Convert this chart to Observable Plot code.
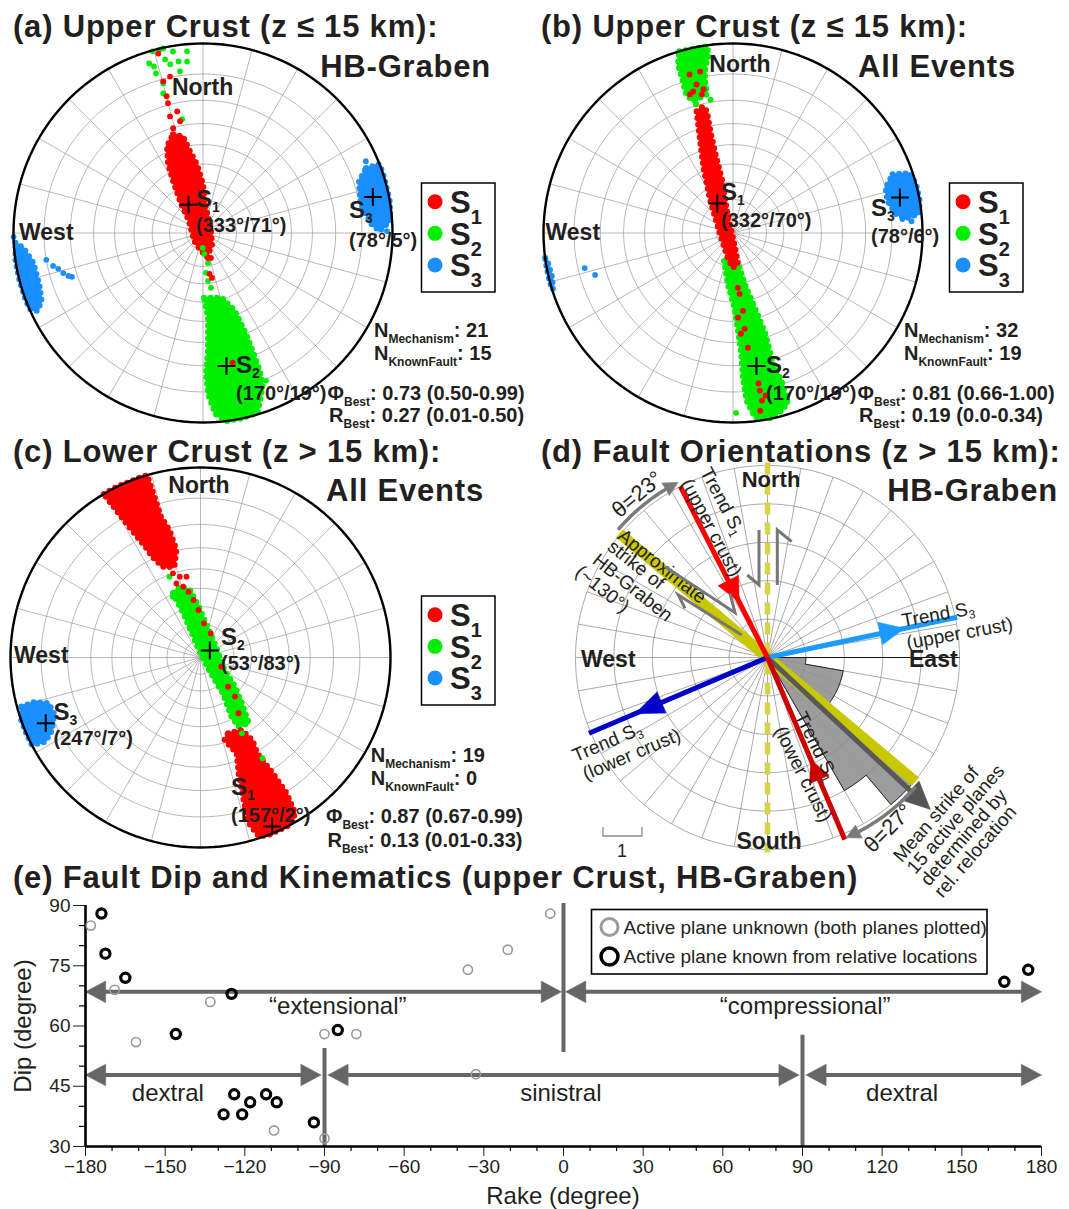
<!DOCTYPE html>
<html>
<head>
<meta charset="utf-8">
<script src="https://cdn.jsdelivr.net/npm/d3@7"></script>
<script src="https://cdn.jsdelivr.net/npm/@observablehq/plot@0.6"></script>
<style>
html,body{margin:0;padding:0;background:#fff;}
#fig{position:relative;width:1069px;height:1209px;overflow:hidden;background:#fff;}
#fig > svg{position:absolute;overflow:visible;}
</style>
</head>
<body>
<div id="fig"></div>
<script>
// ======================= DATA =======================
// Stereonet bootstrap clouds, outlined as [trend°, plunge°] (lower hemisphere)
// (a) Upper crust, HB-Graben
const aS1Cloud = [[343.1,32.9],[348.3,35.0],[350.5,41.8],[355.0,50.0],[0.0,61.1],[6.8,74.9],[58.0,84.3],[143.1,81.0],[170.5,75.4],[186.3,79.2],[228.4,82.8],[310.6,78.9],[322.8,68.3],[330.0,55.0],[333.1,45.6],[337.5,37.2]];
const aS2Cloud = [[179.1,52.2],[163.7,50.8],[157.7,42.1],[156.9,29.9],[157.2,20.7],[157.6,13.7],[158.6,8.3],[163.0,0.6],[168.2,0.0],[172.8,0.0],[176.2,2.6],[178.2,9.4],[178.8,16.8],[177.6,26.3],[176.6,41.8]];
const aS3Cloud = [[68.3,4.4],[68.7,0.0],[72.1,0.0],[80.4,0.0],[86.3,0.6],[89.4,4.0],[86.9,6.7],[79.6,9.6],[71.6,8.1]];
const aS3CloudWest = [[267.0,0.5],[265.2,2.9],[260.0,5.5],[252.1,5.6],[247.2,4.5],[244.8,2.0],[246.4,0.0],[250.1,0.0],[255.7,0.0],[261.6,0.0]];
const aS1Scatter = [[346.0,1.4],[345.3,10.8],[348.1,9.7],[345.1,16.5],[344.9,19.3],[344.2,24.8],[348.0,23.5],[348.4,27.9],[344.1,30.2],[339.7,36.9],[168.7,74.7],[162.3,74.3],[170.9,65.3],[168.7,62.8],[167.1,19.9]];
const aS2Scatter = [[344.5,0.3],[346.7,0.3],[347.8,0.2],[350.6,1.7],[355.0,2.2],[342.4,3.6],[343.6,5.0],[347.7,3.7],[349.0,5.6],[351.9,5.1],[354.7,5.5],[351.9,8.5],[343.6,7.4],[345.1,11.5],[344.1,15.1],[349.6,27.2],[181.0,81.0],[176.2,77.3],[170.5,71.8],[175.7,66.2],[174.0,61.5],[171.7,57.4],[156.9,9.5]];
const aS3Scatter = [[260.3,10.0],[257.6,12.0],[256.1,13.6],[254.0,15.0],[252.3,16.6],[251.5,17.8],[268.8,0.0],[66.2,3.6],[89.4,1.7]];
const aBest = [[333,71],[170,19],[78,5]];
const aStats = ["21","15","0.73 (0.50-0.99)","0.27 (0.01-0.50)"];

// (b) Upper crust, all events
const bS1Cloud = [[343.3,22.4],[340.3,35.6],[335.5,48.8],[324.6,66.7],[278.1,81.5],[192.2,74.7],[180.5,69.2],[171.0,71.2],[172.7,83.3],[344.1,78.1],[348.5,58.8],[347.5,43.9],[347.5,32.4],[347.9,23.4],[346.7,21.0]];
const bS2Cloud = [[197.8,72.4],[186.0,59.8],[178.9,46.9],[177.1,35.4],[176.1,24.9],[176.1,15.2],[175.4,6.9],[173.2,1.1],[168.0,0.0],[162.2,3.2],[161.8,10.2],[162.9,19.6],[162.2,31.7],[163.7,45.4],[167.0,59.2],[170.8,71.2]];
const bS2CloudNorth = [[343.5,0.0],[352.1,0.3],[352.2,2.9],[350.4,7.3],[349.6,11.7],[349.4,16.7],[343.1,18.0],[341.3,14.7],[341.7,9.7],[341.9,3.8]];
const bS3Cloud = [[69.8,6.2],[71.3,0.9],[75.0,0.0],[80.4,0.0],[84.2,0.9],[85.1,4.8],[83.4,8.2],[78.3,10.4],[73.6,10.0]];
const bS3CloudWest = [[262.5,0.0],[260.5,0.7],[256.1,1.0],[252.8,0.3],[252.6,0.0],[255.7,0.0],[259.5,0.0]];
const bS1Scatter = [[348.5,8.0],[346.2,12.2],[347.3,16.3],[344.7,8.1],[344.3,14.4],[342.7,15.1],[348.4,14.5],[174.9,57.6],[173.8,54.2],[172.7,45.0],[176.6,41.8],[173.0,36.0],[175.5,33.9],[172.6,27.2],[170.4,12.3],[170.3,9.7],[168.7,7.6],[170.2,6.2],[171.3,3.0]];
const bS2Scatter = [[344.0,19.5],[350.5,19.0],[179.0,3.0],[165.0,1.5]];
const bS3Scatter = [[86.2,3.3],[85.3,6.2],[256.7,12.4],[253.1,15.5]];
const bBest = [[332,70],[170,19],[78,6]];
const bStats = ["32","19","0.81 (0.66-1.00)","0.19 (0.0-0.34)"];

// (c) Lower crust, all events
const cS1CloudNorth = [[329.4,0.0],[333.9,0.0],[341.1,0.0],[343.7,0.0],[343.9,4.9],[344.3,14.8],[346.3,20.8],[347.4,29.8],[344.0,37.1],[337.3,35.2],[334.4,29.1],[333.5,23.8],[331.6,15.3],[330.6,9.2],[329.8,3.6]];
const cS1CloudSouth = [[160.0,44.0],[150.3,42.6],[147.9,35.7],[149.3,29.2],[148.0,18.6],[147.6,9.5],[148.7,2.3],[152.1,0.0],[159.1,0.0],[161.9,0.5],[163.8,5.5],[163.2,13.8],[161.8,24.6],[159.3,33.4],[163.8,41.3]];
const cS2Cloud = [[336.7,49.6],[338.7,62.0],[340.4,74.6],[0.0,87.5],[146.9,78.7],[148.0,65.0],[152.4,51.2],[151.2,44.9],[143.7,43.5],[137.9,54.0],[130.2,63.2],[117.5,73.8],[55.1,78.6],[12.6,71.1],[358.1,60.0],[351.3,50.5],[343.7,47.6]];
const cS3Cloud = [[254.7,1.3],[255.0,5.9],[253.2,10.3],[249.2,10.9],[243.9,8.0],[241.5,4.2],[242.6,0.0],[245.8,0.0],[251.0,0.0]];
const cS1Scatter = [[341.1,36.4],[341.9,40.0],[345.6,42.6],[350.2,43.3],[342.0,45.4],[346.3,48.0],[349.7,51.2],[353.1,56.1],[357.6,61.9],[5.7,69.5],[23.0,74.3],[114.0,76.4],[136.6,66.1],[138.6,59.3],[145.7,50.9],[157.7,38.8],[153.2,27.7]];
const cS2Scatter = [[339.0,41.0],[335.6,51.3],[148.4,26.2],[151.4,41.1]];
const cBest = [[157,2],[53,83],[247,7]];
const cStats = ["19","0","0.87 (0.67-0.99)","0.13 (0.01-0.33)"];

// (d) Rose of fault strikes (10° bins) and reference trends
const roseBinStart = [90, 100, 110, 120, 130, 140];
const roseBinWidth = 10;
const roseCounts = [1, 2, 2, 2, 5, 4];
const trendS1Upper = 333, trendS3Upper = 78, trendS1Lower = 157, trendS3Lower = 247;
const strikeGraben = 130, meanStrike = 133;

// (e) Rake / dip of nodal planes
const knownPlanes = [[-174,88],[-172.5,78],[-165,72],[-125,68],[-146,58],[-124,43],[-128,38],[-121,38],[-118,41],[-112,43],[-108,41],[-94,36],[-85,59],[166,71],[175,74]];
const unknownPlanes = [[-178,85],[-169,69],[-133,66],[-161,56],[-109,34],[-90,58],[-90,32],[-78,58],[-36,74],[-21,79],[-33,48],[-5,88]];
const kinNames = ["\u201Cextensional\u201D", "\u201Ccompressional\u201D", "dextral", "sinistral", "dextral"];
const kinFrom = [-180, 0, -180, -90, 90];
const kinTo = [0, 180, -90, 90, 180];
const xTicks = [-180, -150, -120, -90, -60, -30, 0, 30, 60, 90, 120, 150, 180];
const yTicks = [30, 45, 60, 75, 90];

// ======================= DRAWING =======================
const FONT = '"Liberation Sans", Arial, Helvetica, sans-serif';
const INK = "#231f20";
const RED = "#ff0000", GREEN = "#00ee00", BLUE = "#1a8fff";
const fig = document.getElementById("fig");
function put(node, left, top) {
  node.style.position = "absolute";
  node.style.left = left + "px";
  node.style.top = top + "px";
  fig.appendChild(node);
}
const rad = d => d * Math.PI / 180;
function stereo(t, p) { const r = Math.tan(rad(90 - p) / 2); return [r * Math.sin(rad(t)), r * Math.cos(rad(t))]; }
const SX = d => stereo(d[0], d[1])[0];
const SY = d => stereo(d[0], d[1])[1];
const closeRing = a => a.concat([a[0]]);

function stereonet(cx, cy, R, clouds, scatter, best) {
  const pad = 24, W = 2 * R + 2 * pad;
  const circles = d3.range(10, 90, 10).flatMap(p => d3.range(0, 361, 3).map(t => [t, p]));
  const radials = d3.range(0, 360, 15);
  const rim = d3.range(0, 361, 2).map(t => [t, 0]);
  const marks = [
    Plot.line(circles, {x: SX, y: SY, z: d => d[1], stroke: "#a0a0a0", strokeWidth: 0.75}),
    Plot.link(radials, {x1: () => 0, y1: () => 0, x2: t => Math.sin(rad(t)), y2: t => Math.cos(rad(t)), stroke: "#a0a0a0", strokeWidth: 0.75})
  ];
  for (const c of clouds) {
    marks.push(Plot.line(closeRing(c[0]), {x: SX, y: SY, fill: c[1], stroke: c[1], strokeWidth: 2, strokeLinejoin: "round"}));
    marks.push(Plot.line(closeRing(c[0]), {x: SX, y: SY, stroke: c[1], strokeWidth: 6, strokeLinecap: "round", strokeDasharray: "0,6.5"}));
  }
  for (const s of scatter) marks.push(Plot.dot(s[0], {x: SX, y: SY, r: 2.9, fill: s[1]}));
  marks.push(Plot.line(rim, {x: SX, y: SY, stroke: "black", strokeWidth: 2.4}));
  marks.push(Plot.dot(best, {x: SX, y: SY, symbol: "plus", r: 5.8, stroke: "black", strokeWidth: 2}));
  const svg = Plot.plot({width: W, height: W, margin: pad,
    x: {domain: [-1, 1], axis: null}, y: {domain: [-1, 1], axis: null},
    style: {background: "transparent", overflow: "visible"}, marks});
  put(svg, cx - R - pad, cy - R - pad);
}

stereonet(202, 232, 189.5,
  [[aS2Cloud, GREEN], [aS1Cloud, RED], [aS3Cloud, BLUE], [aS3CloudWest, BLUE]],
  [[aS2Scatter, GREEN], [aS1Scatter, RED], [aS3Scatter, BLUE]], aBest);
stereonet(732, 232, 189.5,
  [[bS2Cloud, GREEN], [bS2CloudNorth, GREEN], [bS1Cloud, RED], [bS3Cloud, BLUE], [bS3CloudWest, BLUE]],
  [[bS2Scatter, GREEN], [bS1Scatter, RED], [bS3Scatter, BLUE]], bBest);
stereonet(200, 657, 190,
  [[cS2Cloud, GREEN], [cS1CloudNorth, RED], [cS1CloudSouth, RED], [cS3Cloud, BLUE]],
  [[cS2Scatter, GREEN], [cS1Scatter, RED]], cBest);

// ---- (d) rose diagram ----
(function rose() {
  const cx = 767, cy = 657, U = 38.4, half = 262, m = half - 5 * U;
  const P = (t, r) => [r * Math.sin(rad(t)), r * Math.cos(rad(t))];
  const bins = roseBinStart.map((f, i) => ({from: f, to: f + roseBinWidth, n: roseCounts[i]}));
  const wedge = bins.flatMap((b, i) => [[0, 0], ...d3.range(b.from, b.to + 0.001, 1).map(t => P(t, b.n)), [0, 0]].map(p => ({x: p[0], y: p[1], i})));
  const outline = [[0, 0], ...bins.flatMap(b => d3.range(b.from, b.to + 0.001, 1).map(t => P(t, b.n))), [0, 0]];
  const rings = d3.range(1, 6).flatMap(r => d3.range(0, 361, 2).map(t => ({p: P(t, r), r})));
  const radials = d3.range(0, 360, 10);
  const seg = (a, b, stroke, w, extra = {}) => Plot.link([{a, b}], {x1: d => d.a[0], y1: d => d.a[1], x2: d => d.b[0], y2: d => d.b[1], stroke, strokeWidth: w, ...extra});
  const tri = (t, base, tip, hw, fill) => {
    const c = P(t, base), q = [Math.cos(rad(t)), -Math.sin(rad(t))];
    const pts = [[c[0] + hw * q[0], c[1] + hw * q[1]], P(t, tip), [c[0] - hw * q[0], c[1] - hw * q[1]]];
    return Plot.line(closeRing(pts), {x: d => d[0], y: d => d[1], fill, stroke: fill, strokeWidth: 0.5});
  };
  const arc = (t1, t2, r) => {
    const dir = Math.sign(t2 - t1), body = t2 - dir * 4.2;
    const pts = d3.range(t1, body + dir * 0.001, dir * 0.5).map(t => P(t, r));
    const head = [P(body, r + 0.19), P(t2, r), P(body, r - 0.19)];
    return [Plot.line(pts, {x: d => d[0], y: d => d[1], stroke: "#7a7a7a", strokeWidth: 3.5}),
            Plot.line(closeRing(head), {x: d => d[0], y: d => d[1], fill: "#7a7a7a", stroke: "#7a7a7a", strokeWidth: 0.5})];
  };
  const marks = [
    Plot.line(wedge, {x: "x", y: "y", z: "i", fill: "#9c9c9c", stroke: "none"}),
    Plot.line(rings, {x: d => d.p[0], y: d => d.p[1], z: "r", stroke: "#858585", strokeWidth: 0.7}),
    Plot.link(radials.filter(t => t !== 90), {x1: () => 0, y1: () => 0, x2: t => 5 * Math.sin(rad(t)), y2: t => 5 * Math.cos(rad(t)), stroke: "#858585", strokeWidth: 0.7}),
    seg([0, 0], P(90, 5), "#111", 1.1),
    Plot.line(outline, {x: d => d[0], y: d => d[1], stroke: "#1a1a1a", strokeWidth: 0.9}),
    seg(P(0, 5.08), P(180, 5.08), "#d4d446", 5.5, {strokeDasharray: "12,8"}),
    seg(P(strikeGraben + 180, 5.03), P(strikeGraben, 5.03), "#c8c800", 11),
    seg([0, 0], P(meanStrike, 5.12), "#595959", 5),
    seg([0, 0], P(trendS3Upper, 5.05), "#1a9bff", 5),
    seg([0, 0], P(trendS3Lower, 5.05), "#0000c8", 5),
    seg(P(trendS1Upper, 5.0), [0, 0], "#ff0000", 5),
    seg([0, 0], P(trendS1Lower, 5.15), "#cc0000", 5),
    tri(trendS1Upper, 2.25, 1.62, 0.3, "#ff0000"),
    tri(trendS1Lower, 3.45, 2.9, 0.28, "#cc0000"),
    tri(trendS3Upper, 3.0, 3.65, 0.3, "#1a9bff"),
    tri(trendS3Lower, 3.0, 3.75, 0.3, "#0000c8"),
    tri(meanStrike, 5.08, 5.8, 0.34, "#555555"),
    ...arc(strikeGraben + 181, trendS1Upper, 5.12),
    ...arc(strikeGraben + 1.5, trendS1Lower - 0.5, 5.12)
  ];
  const svg = Plot.plot({width: 2 * half, height: 2 * half, margin: m,
    x: {domain: [-5, 5], axis: null}, y: {domain: [-5, 5], axis: null},
    style: {background: "transparent", overflow: "visible"}, marks});
  put(svg, cx - half, cy - half);
})();

// ---- (e) dip vs rake ----
(function dipRake() {
  const fmt = d => d < 0 ? "\u2212" + (-d) : String(d);
  const rows = [68.5, 68.5, 47.8, 47.8, 47.8];
  const gaps = [0.8, 0.8, 1.3, 1.3, 1.3];
  const arrows = kinNames.map((name, i) => ({name, from: kinFrom[i] + (kinFrom[i] === -180 ? 0 : gaps[i]), to: kinTo[i] - (kinTo[i] === 180 ? 0 : gaps[i]), dip: rows[i]}));
  const L = 7.6, H = 2.7;
  const heads = arrows.flatMap((a, i) => [
    [a.from, a.dip], [a.from + L, a.dip + H], [a.from + L, a.dip - H], [a.from, a.dip],
    [a.to, a.dip], [a.to - L, a.dip + H], [a.to - L, a.dip - H], [a.to, a.dip]
  ].map((p, j) => ({x: p[0], y: p[1], k: i * 2 + (j < 4 ? 0 : 1)})));
  const labelX = [-85, 91, -149, -1, 127.5];
  const labelY = [64.9, 64.9, 43.3, 43.3, 43.3];
  const dividers = [{x: 0, y1: 53.4, y2: 90.5}, {x: -90, y1: 30, y2: 54.4}, {x: 90, y1: 30, y2: 57.7}];
  const minorX = d3.range(-170, 180, 10).filter(v => v % 30 !== 0);
  const minorY = d3.range(35, 90, 5).filter(v => v % 15 !== 0);
  const svg = Plot.plot({
    width: 1069, height: 329, marginLeft: 85, marginRight: 28, marginTop: 25, marginBottom: 63,
    style: {background: "transparent", overflow: "visible", fontFamily: FONT, fontSize: "19px", color: INK},
    x: {domain: [-180, 180], ticks: xTicks, tickSize: 10, tickPadding: 3, tickFormat: fmt, label: null},
    y: {domain: [30, 90], ticks: yTicks, tickSize: 12, tickPadding: 3, label: null},
    marks: [
      Plot.ruleX(minorX, {y1: () => 30, y2: () => 30 - 5 / 4.017, stroke: "black", strokeWidth: 1.2}),
      Plot.ruleY(minorY, {x1: () => -180, x2: () => -180 - 6 / 2.656, stroke: "black", strokeWidth: 1.2}),
      Plot.ruleX(dividers, {x: "x", y1: "y1", y2: "y2", stroke: "#666", strokeWidth: 4}),
      Plot.link(arrows, {x1: d => d.from + 3, x2: d => d.to - 3, y1: "dip", y2: "dip", stroke: "#666", strokeWidth: 4}),
      Plot.line(heads, {x: "x", y: "y", z: "k", fill: "#666", stroke: "#666", strokeWidth: 0.5}),
      Plot.text(arrows, {x: (d, i) => labelX[i], y: (d, i) => labelY[i], text: "name", fontSize: 24, fill: INK}),
      Plot.ruleY([30], {x1: () => -180, x2: () => 180, stroke: "black", strokeWidth: 2.6}),
      Plot.ruleX([-180], {y1: () => 30, y2: () => 90, stroke: "black", strokeWidth: 2.6}),
      Plot.dot(unknownPlanes, {x: d => d[0], y: d => d[1], r: 4.6, stroke: "#999", strokeWidth: 1.6, fill: "none"}),
      Plot.dot(knownPlanes, {x: d => d[0], y: d => d[1], r: 4.6, stroke: "black", strokeWidth: 3.2, fill: "none"})
    ]
  });
  put(svg, 0, 880);
})();

// ======================= TEXT / ANNOTATION LAYER =======================
const ov = d3.create("svg").attr("width", 1069).attr("height", 1209).attr("font-family", FONT);
put(ov.node(), 0, 0);
function txt(x, y, parts, o = {}) {
  const t = ov.append("text").attr("x", x).attr("y", y)
    .attr("font-size", o.size ?? 20).attr("font-weight", o.bold ? "bold" : "normal")
    .attr("text-anchor", o.anchor ?? "start").attr("fill", o.fill ?? INK);
  if (o.ls != null) t.attr("letter-spacing", o.ls);
  if (o.rot) t.attr("transform", `rotate(${o.rot} ${x} ${y})`);
  if (o.mid) t.attr("dy", "0.35em");
  let pend = 0;
  for (const p of [].concat(parts)) {
    if (typeof p === "string") { const s = t.append("tspan").text(p); if (pend) { s.attr("dy", pend); pend = 0; } }
    else { t.append("tspan").attr("font-size", p.size).attr("dy", p.shift).text(p.sub); pend = -p.shift; }
  }
  return t;
}
const title = (x, y, s, anchor) => txt(x, y, s, {size: 31, bold: true, ls: 0.8, anchor});
title(13, 37, "(a) Upper Crust (z \u2264 15 km):");
title(491, 77, "HB-Graben", "end");
title(541, 37, "(b) Upper Crust (z \u2264 15 km):");
title(1016, 77, "All Events", "end");
title(13, 462, "(c) Lower Crust (z > 15 km):");
title(484, 501, "All Events", "end");
title(541, 462, "(d) Fault Orientations (z > 15 km):");
title(1058, 501, "HB-Graben", "end");
title(13, 888, "(e) Fault Dip and Kinematics (upper Crust, HB-Graben)");

const compass = (x, y, s, anchor, size = 23) => txt(x, y, s, {size, bold: true, anchor});
compass(202.6, 95, "North", "middle"); compass(19, 240, "West");
compass(740, 72, "North", "middle"); compass(545.5, 240, "West");
compass(199, 493, "North", "middle"); compass(14, 663, "West");
compass(771, 487, "North", "middle", 22); compass(769, 849, "South", "middle");
compass(581, 667, "West"); compass(909, 667, "East");

function sLabel(x, y1, y2, n, best) {
  txt(x, y1, ["S", {sub: String(n), size: 14, shift: 5}], {size: 24, bold: true});
  txt(x, y2 + 1, `(${best[0]}\u00B0/${best[1]}\u00B0)`, {size: 20, bold: true});
}
sLabel(196, 207, 231, 1, aBest[0]); sLabel(236, 373, 399, 2, aBest[1]); sLabel(349, 218, 246, 3, aBest[2]);
sLabel(721, 200, 226, 1, bBest[0]); sLabel(766, 373, 399, 2, bBest[1]); sLabel(871, 216, 242, 3, bBest[2]);
sLabel(231, 795, 821, 1, cBest[0]); sLabel(221, 645, 669, 2, cBest[1]); sLabel(53.5, 720, 744, 3, cBest[2]);

function legendS(x, y) {
  ov.append("rect").attr("x", x).attr("y", y).attr("width", 73.5).attr("height", 109).attr("fill", "white").attr("stroke", "black").attr("stroke-width", 1.5);
  [RED, GREEN, BLUE].forEach((c, i) => {
    ov.append("circle").attr("cx", x + 13.5).attr("cy", y + 18.7 + 31.65 * i).attr("r", 7.5).attr("fill", c);
    txt(x + 28.5, y + 30 + 31.65 * i, ["S", {sub: String(i + 1), size: 20, shift: 11}], {size: 31, bold: true});
  });
}
legendS(421.5, 183); legendS(949.5, 183); legendS(421.5, 596);

function stats(xN, yN, xP, yP, yR, v) {
  txt(xN, yN, ["N", {sub: "Mechanism", size: 12, shift: 6}, ": " + v[0]], {size: 20, bold: true});
  txt(xN, yN + 23, ["N", {sub: "KnownFault", size: 12, shift: 6}, ": " + v[1]], {size: 20, bold: true});
  txt(xP, yP, ["\u03A6", {sub: "Best", size: 12, shift: 6}, ": " + v[2]], {size: 20, bold: true});
  txt(xP + 1.5, yR, ["R", {sub: "Best", size: 12, shift: 6}, ": " + v[3]], {size: 20, bold: true});
}
stats(374, 337, 327.6, 400, 422, aStats);
stats(904, 337, 857.6, 400, 422, bStats);
stats(370.7, 762, 326, 823, 847, cStats);

// (d) annotations
const dl = (x, y, parts, rot, size = 19) => txt(x, y, parts, {size, anchor: "middle", mid: true, rot});
dl(637, 494, "\u03B8=23\u00B0", -40, 22);
dl(888, 828, "\u03B8=27\u00B0", -45, 22);
dl(723, 501, ["Trend S", {sub: "1", size: 12, shift: 4}], 62);
dl(711.7, 527.5, "(upper crust)", 62);
dl(662.5, 566, "Approximate", 38.5);
dl(636.4, 564.4, "strike of", 38.5);
dl(632.9, 587.2, "HB-Graben", 38.5);
dl(602.7, 588.8, "(~130\u00B0)", 38.5);
dl(938, 614, ["Trend S", {sub: "3", size: 12, shift: 4}], -10.3);
dl(959.5, 633, "(upper crust)", -10.3);
dl(607, 741.7, ["Trend S", {sub: "3", size: 12, shift: 4}], -23);
dl(631.5, 754, "(lower crust)", -23);
dl(816.7, 745.8, ["Trend S", {sub: "1", size: 12, shift: 4}], 64);
dl(803.3, 774, "(lower crust)", 63);
["Mean strike of", "15 active planes", "determined by", "rel. relocation"].forEach((s, i) =>
  txt(901.7 + 13.6 * i, 863.3 + 11.8 * i, s, {size: 19, rot: -49}));
const harp = ["M665,566.7 L735,612.7 L730,593.3", "M741.7,635 L678.3,595 L685,608.3",
              "M759,530 L759,585 L747.3,575", "M777.3,585 L777.3,530 L791.7,541.7"];
harp.forEach(d => ov.append("path").attr("d", d).attr("fill", "none").attr("stroke", "#777").attr("stroke-width", 3));
ov.append("path").attr("d", "M603,827 V836 H642 V827").attr("fill", "none").attr("stroke", "#8a8a8a").attr("stroke-width", 1.3);
txt(622, 857, "1", {size: 18, anchor: "middle"});

// (e) axis titles + legend
txt(563, 1204, "Rake (degree)", {size: 24, anchor: "middle"});
txt(31, 1026, "Dip (degree)", {size: 24, anchor: "middle", rot: -90});
ov.append("rect").attr("x", 591.5).attr("y", 909.5).attr("width", 395.5).attr("height", 64.5).attr("fill", "white").attr("stroke", "black").attr("stroke-width", 1.6);
ov.append("circle").attr("cx", 609.5).attr("cy", 927).attr("r", 8.5).attr("fill", "none").attr("stroke", "#9a9a9a").attr("stroke-width", 3);
ov.append("circle").attr("cx", 609.5).attr("cy", 956.5).attr("r", 8.5).attr("fill", "none").attr("stroke", "black").attr("stroke-width", 3.5);
txt(623.5, 934, "Active plane unknown (both planes plotted)", {size: 19});
txt(623.5, 963, "Active plane known from relative locations", {size: 19});
</script>
</body>
</html>
